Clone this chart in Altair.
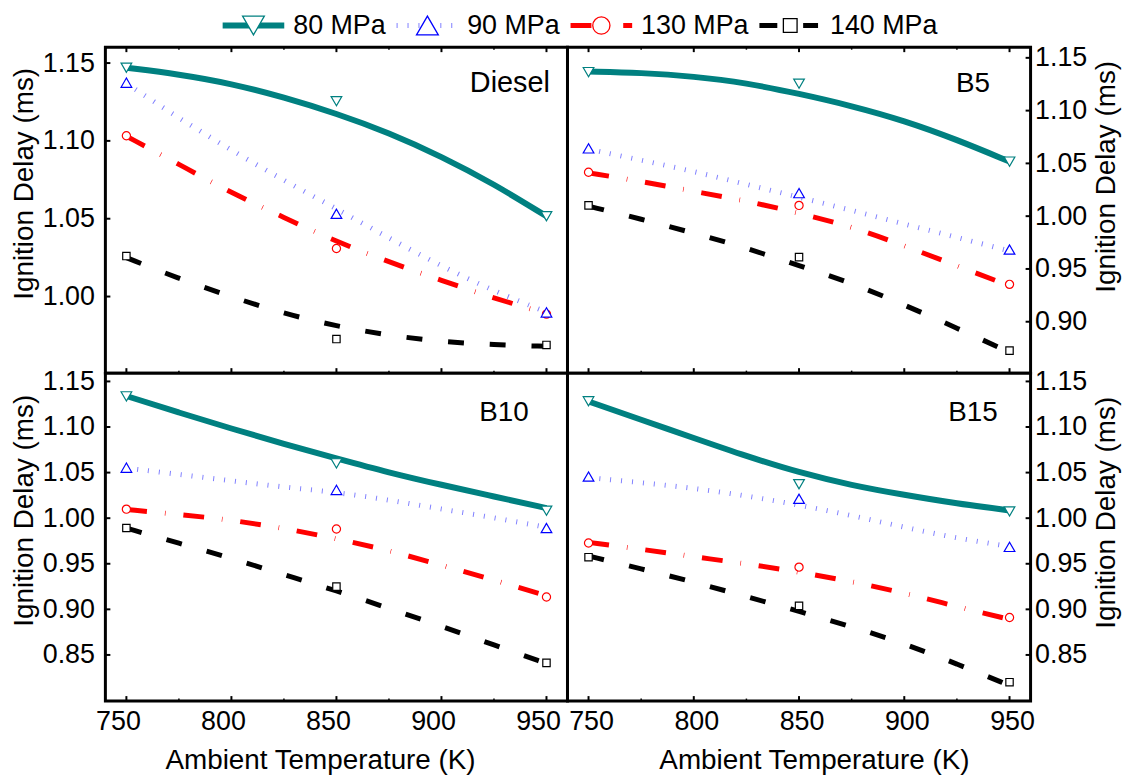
import altair as alt
import pandas as pd

FONT = "Liberation Sans"

SERIES = ["80 MPa", "90 MPa", "130 MPa", "140 MPa"]
T_POINTS = [750, 850, 950]
T_FIT = [750, 775, 800, 825, 850, 875, 900, 925, 950]

# ---- measured points (ms) ----
diesel_pts = {
    "80 MPa": [1.147, 1.1255, 1.0516],
    "90 MPa": [1.1374, 1.0532, 0.9898],
    "130 MPa": [1.1033, 1.0309, 0.9887],
    "140 MPa": [1.026, 0.9727, 0.9689],
}
b5_pts = {
    "80 MPa": [1.1365, 1.1255, 1.0517],
    "90 MPa": [1.0642, 1.0218, 0.9684],
    "130 MPa": [1.0416, 1.0102, 0.9354],
    "140 MPa": [1.0102, 0.9612, 0.8726],
}
b10_pts = {
    "80 MPa": [1.1336, 1.0601, 1.0082],
    "90 MPa": [1.0554, 1.031, 0.9892],
    "130 MPa": [1.0099, 0.9881, 0.9136],
    "140 MPa": [0.9892, 0.9249, 0.8413],
}
b15_pts = {
    "80 MPa": [1.1282, 1.0372, 1.0074],
    "90 MPa": [1.0456, 1.0213, 0.9685],
    "130 MPa": [0.9728, 0.9463, 0.891],
    "140 MPa": [0.9572, 0.9038, 0.8201],
}

# ---- fitted curves (ms), read at T_FIT ----
diesel_fit = {
    "80 MPa": [1.147, 1.1428, 1.1368, 1.128, 1.1176, 1.1052, 1.0900, 1.0723, 1.0516],
    "90 MPa": [1.137, 1.1145, 1.0940, 1.0745, 1.0565, 1.0375, 1.0195, 1.0035, 0.990],
    "130 MPa": [1.103, 1.085, 1.0665, 1.0508, 1.0352, 1.0222, 1.0103, 0.999, 0.989],
    "140 MPa": [1.025, 1.0115, 0.9998, 0.989, 0.981, 0.975, 0.971, 0.969, 0.968],
}
b5_fit = {
    "80 MPa": [1.1371, 1.1359, 1.1324, 1.1262, 1.116, 1.1045, 1.0905, 1.0725, 1.0517],
    "90 MPa": [1.0635, 1.053, 1.0425, 1.030, 1.018, 1.0055, 0.9925, 0.980, 0.967],
    "130 MPa": [1.041, 1.033, 1.0235, 1.0145, 1.003, 0.990, 0.972, 0.953, 0.934],
    "140 MPa": [1.0095, 0.9972, 0.984, 0.970, 0.953, 0.9367, 0.916, 0.894, 0.871],
}
b10_fit = {
    "80 MPa": [1.134, 1.1158, 1.0983, 1.0813, 1.0656, 1.05, 1.0365, 1.0238, 1.011],
    "90 MPa": [1.055, 1.048, 1.041, 1.034, 1.0285, 1.020, 1.010, 1.0005, 0.990],
    "130 MPa": [1.0095, 1.0042, 0.998, 0.989, 0.9776, 0.9646, 0.9485, 0.932, 0.915],
    "140 MPa": [0.989, 0.9726, 0.956, 0.938, 0.9205, 0.901, 0.8816, 0.8609, 0.8406],
}
b15_fit = {
    "80 MPa": [1.128, 1.108, 1.088, 1.068, 1.050, 1.036, 1.0255, 1.016, 1.0085],
    "90 MPa": [1.0445, 1.039, 1.033, 1.0245, 1.0145, 1.003, 0.990, 0.978, 0.969],
    "130 MPa": [0.9735, 0.966, 0.9577, 0.950, 0.941, 0.9305, 0.918, 0.903, 0.889],
    "140 MPa": [0.9585, 0.9444, 0.930, 0.914, 0.8978, 0.8811, 0.8624, 0.8402, 0.8165],
}

# ---- ticks ----
X_MAJOR = [750, 800, 850, 900, 950]
X_MINOR = [775, 825, 875, 925]
Y_TICKS_DIESEL = [1.00, 1.05, 1.10, 1.15]
Y_TICKS_B5 = [0.90, 0.95, 1.00, 1.05, 1.10, 1.15]
Y_TICKS_BOTTOM = [0.85, 0.90, 0.95, 1.00, 1.05, 1.10, 1.15]

# ---- styles ----
COLOR = {"80 MPa": "#008080", "90 MPa": "#0000ff", "130 MPa": "#ff0000", "140 MPa": "#000000"}
LINE_STYLE = {
    "80 MPa": dict(strokeWidth=6),
    "90 MPa": dict(strokeWidth=5, strokeDash=[1, 10], opacity=0.5),
    "130 MPa": dict(strokeWidth=5, strokeDash=[21, 18, 0.6, 18]),
    "140 MPa": dict(strokeWidth=5, strokeDash=[16, 26]),
}
LEGEND_STYLE = {
    "80 MPa": dict(strokeWidth=6),
    "90 MPa": dict(strokeWidth=5, strokeDash=[1, 10], opacity=0.5),
    "130 MPa": dict(strokeWidth=5, strokeDash=[21, 32, 11]),
    "140 MPa": dict(strokeWidth=5, strokeDash=[18, 26, 15]),
}
SHAPE = {"80 MPa": "triangle-down", "90 MPa": "triangle-up", "130 MPa": "circle", "140 MPa": "square"}
SIZE = {"80 MPa": 115, "90 MPa": 115, "130 MPa": 68, "140 MPa": 55}
LEG_SIZE = {"80 MPa": 480, "90 MPa": 480, "130 MPa": 300, "140 MPa": 190}

W_LEFT, W_RIGHT = 465, 466
H_TOP, H_BOT = 328, 330

# ---- legend (drawn above the first panel) ----
ARIAL = {"0": .556, "1": .556, "3": .556, "4": .556, "8": .556, "9": .556,
         " ": .278, "M": .833, "P": .667, "a": .556}
LEG_FS = 27
leg_cx = [149.0]
for s in SERIES[:-1]:
    tw = sum(ARIAL[c] for c in s) * LEG_FS
    leg_cx.append(leg_cx[-1] + 40 + tw + 42)
LEG_Y = -21.8
LEG_TEXT_Y = -13.3


def legend_layers():
    out = []
    for s, cx in zip(SERIES, leg_cx):
        base = alt.Chart(pd.DataFrame({"label": [s]}))
        out.append(base.mark_rule(color=COLOR[s], **LEGEND_STYLE[s])
                   .encode(x=alt.value(cx - 31), x2=alt.value(cx + 31), y=alt.value(LEG_Y)))
        out.append(base.mark_point(shape=SHAPE[s], size=LEG_SIZE[s], filled=True, fill="white",
                                   stroke=COLOR[s], strokeWidth=1.3, opacity=1)
                   .encode(x=alt.value(cx), y=alt.value(LEG_Y)))
        out.append(base.mark_text(align="left", baseline="alphabetic", fontSize=LEG_FS, color="black")
                   .encode(x=alt.value(cx + 40), y=alt.value(LEG_TEXT_Y), text="label:N"))
    return out


def panel(label, pts, fit, ydom, yticks, side, bottom, w, h, title_y, title_x, lab_x, lab_y, lab_fs,
          extra=()):
    if bottom:
        x_axis = alt.Axis(values=X_MAJOR, format="d", ticks=False, domain=False, grid=False,
                          labelFontSize=27, labelPadding=8, labelFlush=False, labelOverlap=False,
                          labelOffset=-8.5 if side == "left" else 2.5,
                          title="Ambient Temperature (K)", titleFontSize=28, titleX=title_x,
                          titleY=67.7, titleBaseline="alphabetic", titleAlign="center")
    else:
        x_axis = None
    y_axis = alt.Axis(orient=side, values=yticks, format=".2f", ticks=False, domain=False, grid=False,
                      labelFontSize=27, labelPadding=11 if side == "left" else 4,
                      labelFlush=False, labelOverlap=False,
                      title="Ignition Delay (ms)", titleFontSize=28, titleAngle=270,
                      titleBaseline="alphabetic", titleAlign="center",
                      titleX=-73 if side == "left" else 84, titleY=title_y)
    X = alt.X("T:Q", scale=alt.Scale(domain=[740, 960], nice=False, zero=False), axis=x_axis)
    Y = alt.Y("v:Q", scale=alt.Scale(domain=ydom, nice=False, zero=False), axis=y_axis)

    layers = []
    for s in reversed(SERIES):
        df = pd.DataFrame({"T": T_FIT, "v": fit[s]})
        layers.append(alt.Chart(df).mark_line(color=COLOR[s], interpolate="basis",
                                              **LINE_STYLE[s]).encode(x=X, y=Y))
    for s in ["140 MPa", "130 MPa", "90 MPa", "80 MPa"]:
        df = pd.DataFrame({"T": T_POINTS, "v": pts[s]})
        layers.append(alt.Chart(df).mark_point(shape=SHAPE[s], size=SIZE[s], filled=True,
                                               fill="white", stroke=COLOR[s], strokeWidth=1.2,
                                               opacity=1).encode(x=X, y=Y))
    # x ticks (inward)
    edges = [h] if bottom else [h, 0]
    for e in edges:
        sign = -1 if e == h else 1
        layers.append(alt.Chart(pd.DataFrame({"T": X_MAJOR})).mark_rule(color="black", strokeWidth=2)
                      .encode(x=X, y=alt.value(e), y2=alt.value(e + sign * 5)))
        layers.append(alt.Chart(pd.DataFrame({"T": X_MINOR})).mark_rule(color="black", strokeWidth=1.5)
                      .encode(x=X, y=alt.value(e), y2=alt.value(e + sign * 2.5)))
    # y ticks (inward)
    if side == "left":
        layers.append(alt.Chart(pd.DataFrame({"v": yticks})).mark_rule(color="black", strokeWidth=2)
                      .encode(y=Y, x=alt.value(0), x2=alt.value(5)))
    else:
        layers.append(alt.Chart(pd.DataFrame({"v": yticks})).mark_rule(color="black", strokeWidth=2)
                      .encode(y=Y, x=alt.value(w), x2=alt.value(w - 5)))
    layers.append(alt.Chart(pd.DataFrame({"label": [label]}))
                  .mark_text(fontSize=lab_fs, align="center", baseline="alphabetic", color="black")
                  .encode(text="label:N", x=alt.value(lab_x), y=alt.value(lab_y)))
    layers.extend(extra)
    return alt.layer(*layers).properties(width=w, height=h)


p_diesel = panel("Diesel", diesel_pts, diesel_fit, [0.9508, 1.1602], Y_TICKS_DIESEL, "left", False,
                 W_LEFT, H_TOP, 137, None, 407, 45, 29, extra=legend_layers())
p_b5 = panel("B5", b5_pts, b5_fit, [0.8513, 1.1601], Y_TICKS_B5, "right", False,
             W_RIGHT, H_TOP, 130, None, 408, 45, 28)
p_b10 = panel("B10", b10_pts, b10_fit, [0.7994, 1.1591], Y_TICKS_BOTTOM, "left", True,
              W_LEFT, H_BOT, 138, 216, 401, 48, 28)
p_b15 = panel("B15", b15_pts, b15_fit, [0.7994, 1.1591], Y_TICKS_BOTTOM, "right", True,
              W_RIGHT, H_BOT, 140, 248, 408, 48, 28)

chart = (
    alt.concat(p_diesel, p_b5, p_b10, p_b15, columns=2, spacing=0, bounds="flush")
    .properties(padding={"left": 1, "top": 0, "right": 0, "bottom": 0})
    .configure_view(stroke="black", strokeWidth=3)
    .configure_axis(labelFont=FONT, titleFont=FONT, labelColor="black", titleColor="black",
                    titleFontWeight="normal")
    .configure_text(font=FONT)
)

chart.save("out.html", embed_options={"renderer": "svg", "actions": False})
